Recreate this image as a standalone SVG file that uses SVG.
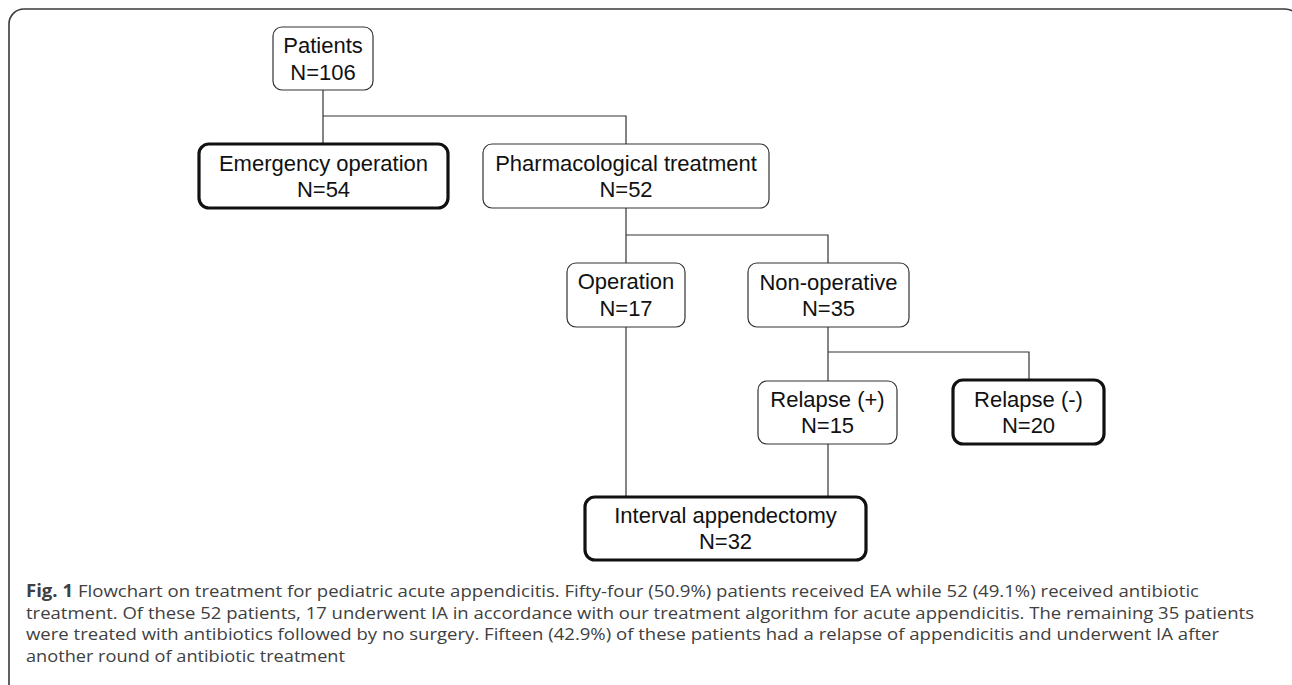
<svg xmlns="http://www.w3.org/2000/svg" width="1292" height="685" viewBox="0 0 1292 685">
<style>
.frame{fill:none;stroke:#3a3a3a;stroke-width:1.6}
.box{fill:#fff;stroke:#333;stroke-width:1.2}
.thick{fill:#fff;stroke:#111;stroke-width:3.2}
.lbl{font-family:"Liberation Sans",Arial,sans-serif;font-size:22px;fill:#111;text-anchor:middle}
.conn{fill:none;stroke:#333;stroke-width:1.2}
.cap{font-family:"Open Sans","Liberation Sans",sans-serif;font-size:17px;fill:#404040}
</style>
<rect width="1292" height="685" fill="#fff"/>
<rect class="frame" x="9" y="9" width="1291" height="720" rx="15"/>
<g id="connectors">
<path class="conn" d="M323,90 V144"/>
<path class="conn" d="M323,116 H626 V144"/>
<path class="conn" d="M626,208 V263"/>
<path class="conn" d="M626,235 H828 V263"/>
<path class="conn" d="M828,327 V381"/>
<path class="conn" d="M828,352 H1029 V380"/>
<path class="conn" d="M626,327 V497"/>
<path class="conn" d="M828,444 V497"/>
</g>
<g id="patients">
<rect class="box" x="273" y="27" width="100" height="63" rx="9"/>
<text class="lbl" x="323" y="53">Patients</text>
<text class="lbl" x="323" y="80">N=106</text>
</g>
<g id="emergency">
<rect class="thick" x="199" y="144" width="249" height="64" rx="10"/>
<text class="lbl" x="323.5" y="171">Emergency operation</text>
<text class="lbl" x="323.5" y="197">N=54</text>
</g>
<g id="pharmacological">
<rect class="box" x="483" y="144" width="286" height="64" rx="9"/>
<text class="lbl" x="626" y="171">Pharmacological treatment</text>
<text class="lbl" x="626" y="197">N=52</text>
</g>
<g id="operation">
<rect class="box" x="567" y="263" width="118" height="64" rx="9"/>
<text class="lbl" x="626" y="289">Operation</text>
<text class="lbl" x="626" y="316">N=17</text>
</g>
<g id="nonoperative">
<rect class="box" x="748" y="263" width="161" height="64" rx="9"/>
<text class="lbl" x="828.5" y="290">Non-operative</text>
<text class="lbl" x="828.5" y="316">N=35</text>
</g>
<g id="relapse-pos">
<rect class="box" x="758" y="381" width="139" height="63" rx="9"/>
<text class="lbl" x="827.5" y="407">Relapse (+)</text>
<text class="lbl" x="827.5" y="433">N=15</text>
</g>
<g id="relapse-neg">
<rect class="thick" x="953" y="380" width="151" height="64" rx="10"/>
<text class="lbl" x="1028.5" y="407">Relapse (-)</text>
<text class="lbl" x="1028.5" y="433">N=20</text>
</g>
<g id="interval">
<rect class="thick" x="585" y="497" width="281" height="63" rx="10"/>
<text class="lbl" x="725.5" y="523">Interval appendectomy</text>
<text class="lbl" x="725.5" y="549">N=32</text>
</g>
<g id="caption">
<text class="cap" x="26" y="597" textLength="1173" lengthAdjust="spacingAndGlyphs"><tspan font-weight="bold">Fig. 1</tspan> Flowchart on treatment for pediatric acute appendicitis. Fifty-four (50.9%) patients received EA while 52 (49.1%) received antibiotic</text>
<text class="cap" x="26" y="618.5" textLength="1228" lengthAdjust="spacingAndGlyphs">treatment. Of these 52 patients, 17 underwent IA in accordance with our treatment algorithm for acute appendicitis. The remaining 35 patients</text>
<text class="cap" x="26" y="640" textLength="1193" lengthAdjust="spacingAndGlyphs">were treated with antibiotics followed by no surgery. Fifteen (42.9%) of these patients had a relapse of appendicitis and underwent IA after</text>
<text class="cap" x="26" y="661.5" textLength="319" lengthAdjust="spacingAndGlyphs">another round of antibiotic treatment</text>
</g>
</svg>
